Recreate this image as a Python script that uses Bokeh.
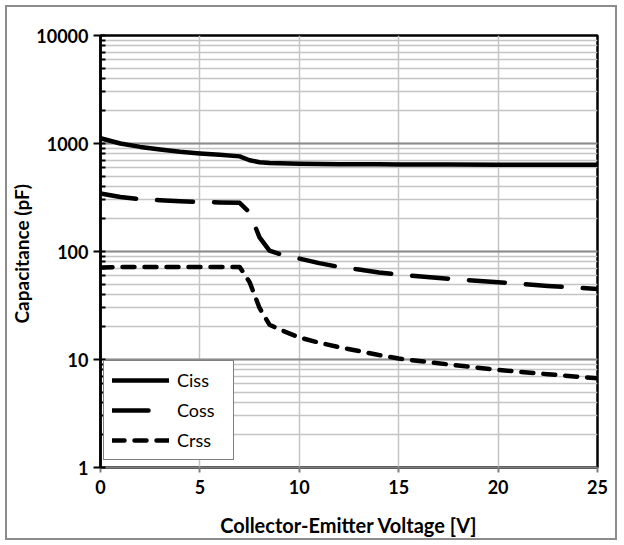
from bokeh.plotting import figure
from bokeh.models import (FixedTicker, LogTicker, NumeralTickFormatter, Legend, LegendItem)
from bokeh.embed import file_html
from bokeh.resources import INLINE

voltage = [0, 1, 2, 3, 4, 5, 6, 7, 7.5, 8, 8.5, 9, 10, 11, 12, 13, 14, 15, 17.5, 20, 22.5, 25]
ciss = [1120, 1000, 930, 880, 840, 810, 785, 760, 700, 670, 660, 655, 648, 645, 643, 642, 641, 640, 638, 637, 636, 635]
coss = [345, 320, 305, 298, 292, 288, 285, 282, 230, 135, 102, 95, 86, 78, 72, 68, 64, 61, 56, 52, 48, 45]
crss = [71, 72, 72, 72, 72, 72, 72, 72, 52, 30, 21, 19, 16, 14.3, 13, 12, 11, 10.2, 9, 8, 7.3, 6.7]

x_ticks = [0, 5, 10, 15, 20, 25]
font = "Lato"

p = figure(width=612, height=535, y_axis_type="log", x_range=(0, 25), y_range=(1, 10000),
           output_backend="svg", toolbar_location=None,
           min_border_left=93, min_border_right=22, min_border_top=28, min_border_bottom=75)
p.styles = {"border": "2px solid #8c8c8c", "margin": "5px 0 0 5px"}

p.outline_line_color = "black"
p.outline_line_width = 2.5

# grids
p.xgrid.ticker = FixedTicker(ticks=x_ticks)
p.xgrid.grid_line_color = "#c4c4c4"
p.xgrid.grid_line_width = 1.5
p.ygrid.grid_line_color = "#8c8c8c"
p.ygrid.grid_line_width = 2
p.ygrid.minor_grid_line_color = "#c4c4c4"
p.ygrid.minor_grid_line_width = 1.5

# x axis
xa = p.xaxis[0]
xa.ticker = FixedTicker(ticks=x_ticks)
xa.axis_line_color = "#7f7f7f"
xa.axis_line_width = 2
xa.major_tick_line_color = "#7f7f7f"
xa.major_tick_line_width = 2
xa.major_tick_out = 5
xa.major_tick_in = 0
xa.minor_tick_line_color = None
xa.major_label_text_font = font
xa.major_label_text_font_style = "bold"
xa.major_label_text_font_size = "18px"
xa.major_label_text_color = "#000000"
xa.major_label_standoff = 7
xa.axis_label = "Collector-Emitter Voltage [V]"
xa.axis_label_text_font = font
xa.axis_label_text_font_style = "bold"
xa.axis_label_text_font_size = "20px"
xa.axis_label_text_color = "#000000"
xa.axis_label_standoff = 16

# y axis
ya = p.yaxis[0]
ya.ticker = LogTicker(num_minor_ticks=10)
ya.formatter = NumeralTickFormatter(format="0")
ya.axis_line_color = "black"
ya.axis_line_width = 2.5
ya.major_tick_line_color = "black"
ya.major_tick_line_width = 2
ya.major_tick_out = 7
ya.major_tick_in = 0
ya.minor_tick_line_color = "black"
ya.minor_tick_line_width = 2
ya.minor_tick_in = 5
ya.minor_tick_out = 0
ya.major_label_text_font = font
ya.major_label_text_font_style = "bold"
ya.major_label_text_font_size = "18px"
ya.major_label_text_color = "#000000"
ya.major_label_standoff = 5
ya.axis_label = "Capacitance  (pF)"
ya.axis_label_text_font = font
ya.axis_label_text_font_style = "bold"
ya.axis_label_text_font_size = "19px"
ya.axis_label_text_color = "#000000"
ya.axis_label_standoff = 0

r1 = p.line(voltage, ciss, line_color="black", line_width=4.5, line_cap="round", line_join="round")
r2 = p.line(voltage, coss, line_color="black", line_width=4.5, line_cap="round", line_join="round",
            line_dash="36 21")
r3 = p.line(voltage, crss, line_color="black", line_width=4.5, line_cap="round", line_join="round",
            line_dash="12 10")

legend = Legend(items=[LegendItem(label="Ciss", renderers=[r1]),
                       LegendItem(label="Coss", renderers=[r2]),
                       LegendItem(label="Crss", renderers=[r3])],
                location=(3, 7))
legend.border_line_color = "black"
legend.border_line_width = 1.5
legend.background_fill_color = "white"
legend.background_fill_alpha = 1
legend.label_text_font = font
legend.label_text_font_size = "18px"
legend.label_text_color = "#000000"
legend.glyph_width = 57
legend.glyph_height = 22
legend.label_standoff = 8
legend.label_width = 48
legend.spacing = 8
legend.padding = 8
legend.margin = 0
p.add_layout(legend, "center")

open("out.html", "w").write(file_html(p, INLINE))
